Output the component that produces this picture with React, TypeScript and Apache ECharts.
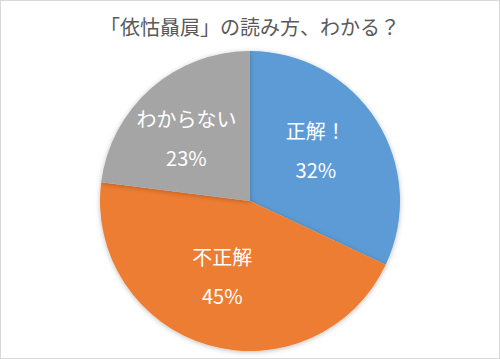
import React, { useEffect, useRef } from "react";
import * as echarts from "echarts";

const titleText = "「依怙贔屓」の読み方、わかる？";
const categories = ["正解！", "不正解", "わからない"];
const values = [32, 45, 23];
const colors = ["#5B9BD5", "#ED7D31", "#A5A5A5"];
const labelOffsets: [number, number][] = [[0, -9], [-6, 0], [-12, -4]];

export default function App() {
  const ref = useRef<HTMLDivElement>(null);
  useEffect(() => {
    if (!ref.current) return;
    const chart = echarts.init(ref.current, null, { renderer: "svg" });
    const font = "'Noto Sans CJK JP', 'Noto Sans', sans-serif";
    chart.setOption({
      animation: false,
      backgroundColor: "transparent",
      title: {
        text: titleText,
        left: "center",
        top: 11,
        textStyle: { fontFamily: font, fontSize: 20, fontWeight: "normal", color: "#595959" },
      },
      series: [
        {
          type: "pie",
          center: [250, 201],
          radius: [0, 150],
          startAngle: 90,
          clockwise: true,
          data: categories.map((name, i) => ({
            name,
            value: values[i],
            itemStyle: { color: colors[i] },
            label: { offset: labelOffsets[i] },
          })),
          itemStyle: {
            borderWidth: 0,
            shadowBlur: 5,
            shadowColor: "rgba(0,0,0,0.25)",
            shadowOffsetY: 1,
          },
          label: {
            show: true,
            position: "inside",
            formatter: (p: any) => `${p.name}\n${Math.round(p.percent)}%`,
            color: "#ffffff",
            fontFamily: font,
            fontSize: 20,
            lineHeight: 39,
            align: "center",
          },
          labelLine: { show: false },
          emphasis: { disabled: true },
        },
      ],
    });
    return () => chart.dispose();
  }, []);
  return (
    <div
      style={{
        position: "absolute",
        left: 0,
        top: 0,
        width: 500,
        height: 359,
        border: "1px solid #d9d9d9",
        boxSizing: "border-box",
        background: "#fff",
      }}
    >
      <div ref={ref} style={{ position: "absolute", left: -1, top: -1, width: 500, height: 359 }} />
    </div>
  );
}
